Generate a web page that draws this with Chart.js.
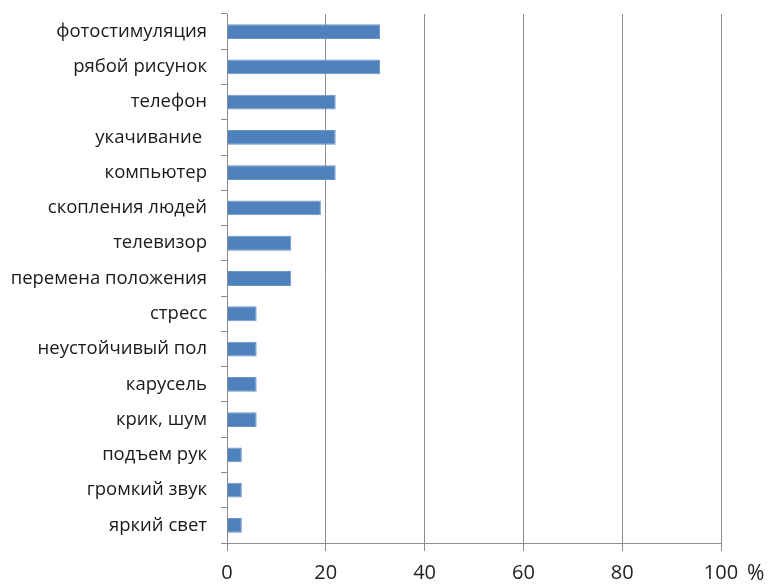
<!DOCTYPE html>
<html>
<head>
<meta charset="utf-8">
<script src="https://cdn.jsdelivr.net/npm/chart.js@4/dist/chart.umd.min.js"></script>
<style>
  html, body { margin: 0; padding: 0; background: #fff; }
  #wrap { width: 769px; height: 584px; }
</style>
</head>
<body>
<div id="wrap"><canvas id="factorsChart"></canvas></div>
<script>
// Provoking factors, share of patients (%)
const factors = [
  "фотостимуляция", "рябой рисунок", "телефон", "укачивание ", "компьютер",
  "скопления людей", "телевизор", "перемена положения", "стресс",
  "неустойчивый пол", "карусель", "крик, шум", "подъем рук",
  "громкий звук", "яркий свет"
];
const percents = [31, 31, 22, 22, 22, 19, 13, 13, 6, 6, 6, 6, 3, 3, 3];
const xTicks = [0, 20, 40, 60, 80, 100];

const labelFont = "'Open Sans', 'DejaVu Sans', sans-serif";

// "%" unit sign to the right of the last x tick
const unitLabel = {
  id: "unitLabel",
  afterDraw(chart) {
    const x = chart.scales.x;
    const ctx = chart.ctx;
    ctx.save();
    ctx.font = "21px " + labelFont;
    ctx.fillStyle = "#222";
    ctx.textAlign = "left";
    ctx.textBaseline = "middle";
    ctx.fillText("%", x.getPixelForValue(100) + 26, 574);
    ctx.restore();
  }
};

document.addEventListener("DOMContentLoaded", function() {
  const canvas = document.getElementById("factorsChart");
  new Chart(canvas, {
    type: "bar",
    data: {
      labels: factors,
      datasets: [{
        data: percents,
        backgroundColor: "#4F81BD",
        borderColor: "#6A93C7",
        borderWidth: { top: 1, right: 1, bottom: 1, left: 0 },
        barPercentage: 0.42,
        categoryPercentage: 1.0
      }]
    },
    options: {
      indexAxis: "y",
      responsive: true,
      maintainAspectRatio: false,
      animation: false,
      layout: { padding: { top: 14, right: 48, left: 0, bottom: 0 } },
      plugins: {
        legend: { display: false },
        tooltip: { enabled: false }
      },
      scales: {
        x: {
          min: 0,
          max: 100,
          afterBuildTicks(scale) {
            scale.ticks = xTicks.map(v => ({ value: v }));
          },
          afterFit(scale) { scale.height = 41; },
          grid: {
            color: "#8c8c8c",
            lineWidth: 1,
            tickLength: 8,
            drawTicks: true
          },
          border: { display: true, color: "#8c8c8c" },
          ticks: {
            padding: 10,
            color: "#222",
            font: { size: 20, family: labelFont }
          }
        },
        y: {
          afterFit(scale) {
            scale.width = 227;
            scale.paddingTop = 0;
            scale.paddingBottom = 0;
          },
          grid: {
            offset: true,
            drawOnChartArea: false,
            color: "#8c8c8c",
            tickLength: 6
          },
          border: { display: true, color: "#8c8c8c" },
          ticks: {
            padding: 14,
            color: "#1a1a1a",
            autoSkip: false,
            font: { size: 18.5, family: labelFont }
          }
        }
      }
    },
    plugins: [unitLabel]
  });
});
</script>
</body>
</html>
